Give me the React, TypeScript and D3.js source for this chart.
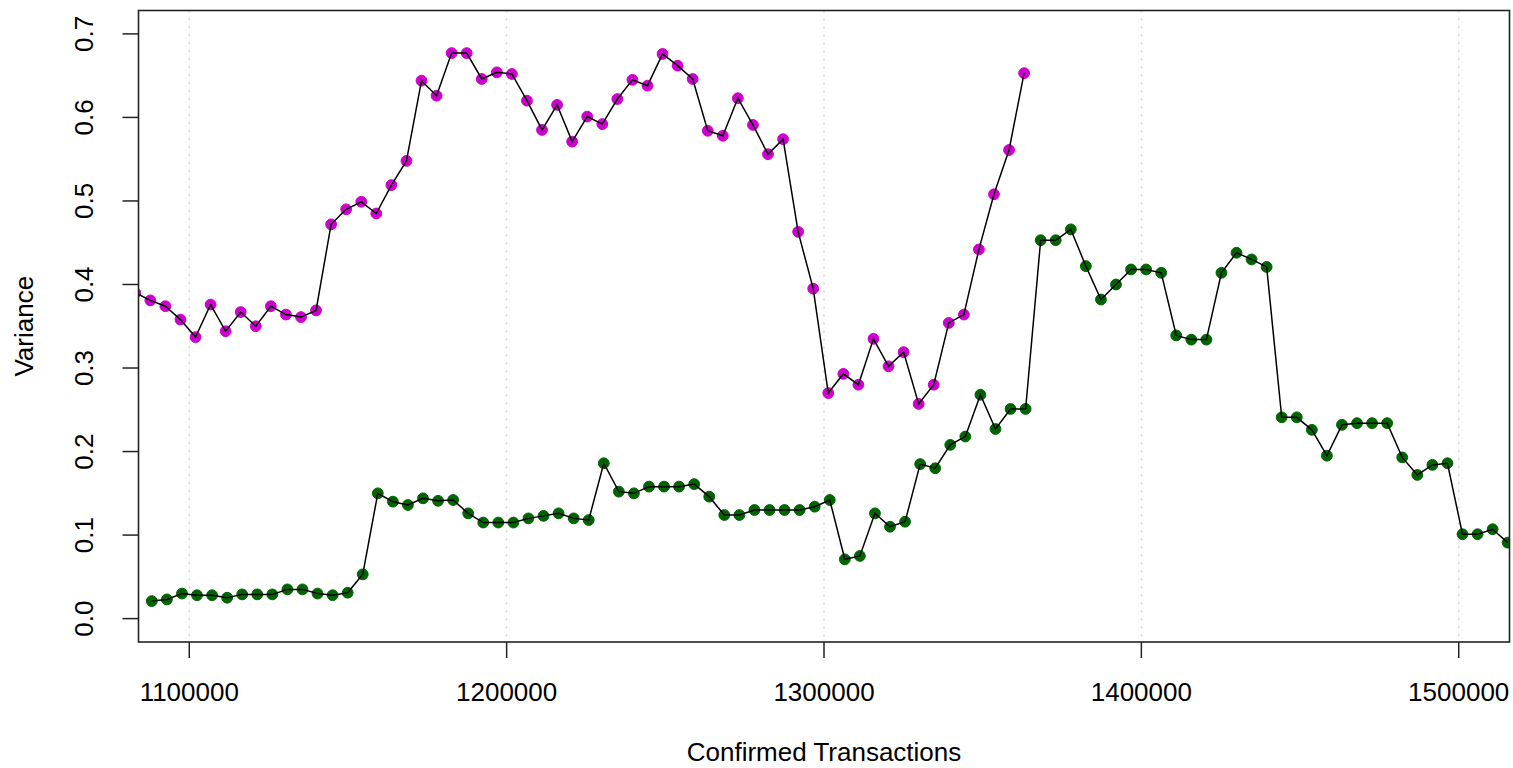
import React from "react";
import * as d3 from "d3";

// x values (Confirmed Transactions) and y values (Variance)
const magentaX = [
  1082983, 1087730, 1092477, 1097224, 1101971, 1106718, 1111465, 1116212, 1120959, 1125706,
  1130453, 1135200, 1139947, 1144694, 1149441, 1154188, 1158935, 1163682, 1168429, 1173176,
  1177923, 1182670, 1187417, 1192164, 1196911, 1201658, 1206405, 1211152, 1215899, 1220646,
  1225393, 1230140, 1234887, 1239634, 1244381, 1249128, 1253875, 1258622, 1263369, 1268116,
  1272863, 1277610, 1282357, 1287104, 1291851, 1296598, 1301345, 1306092, 1310839, 1315586,
  1320333, 1325080, 1329827, 1334574, 1339321, 1344068, 1348815, 1353562, 1358309, 1363056,
];
const magentaY = [
  0.390, 0.381, 0.374, 0.358, 0.337, 0.376, 0.344, 0.367, 0.350, 0.374,
  0.364, 0.361, 0.369, 0.472, 0.490, 0.499, 0.485, 0.519, 0.548, 0.644,
  0.626, 0.677, 0.677, 0.646, 0.654, 0.652, 0.620, 0.585, 0.615, 0.571,
  0.601, 0.592, 0.622, 0.645, 0.638, 0.676, 0.662, 0.646, 0.584, 0.578,
  0.623, 0.591, 0.556, 0.574, 0.463, 0.395, 0.270, 0.293, 0.280, 0.335,
  0.302, 0.319, 0.257, 0.280, 0.354, 0.364, 0.442, 0.508, 0.561, 0.653,
];
const greenX = [
  1088200, 1092947, 1097694, 1102441, 1107188, 1111935, 1116682, 1121429, 1126176, 1130923,
  1135670, 1140417, 1145164, 1149911, 1154658, 1159405, 1164152, 1168899, 1173646, 1178393,
  1183140, 1187887, 1192634, 1197381, 1202128, 1206875, 1211622, 1216369, 1221116, 1225863,
  1230610, 1235357, 1240104, 1244851, 1249598, 1254345, 1259092, 1263839, 1268586, 1273333,
  1278080, 1282827, 1287574, 1292321, 1297068, 1301815, 1306562, 1311309, 1316056, 1320803,
  1325550, 1330297, 1335044, 1339791, 1344538, 1349285, 1354032, 1358779, 1363526, 1368273,
  1373020, 1377767, 1382514, 1387261, 1392008, 1396755, 1401502, 1406249, 1410996, 1415743,
  1420490, 1425237, 1429984, 1434731, 1439478, 1444225, 1448972, 1453719, 1458466, 1463213,
  1467960, 1472707, 1477454, 1482201, 1486948, 1491695, 1496442, 1501189, 1505936, 1510683,
  1515430,
];
const greenY = [
  0.021, 0.023, 0.030, 0.028, 0.028, 0.025, 0.029, 0.029, 0.029, 0.035,
  0.035, 0.030, 0.028, 0.031, 0.053, 0.150, 0.140, 0.136, 0.144, 0.141,
  0.142, 0.126, 0.115, 0.115, 0.115, 0.120, 0.123, 0.126, 0.120, 0.118,
  0.186, 0.152, 0.150, 0.158, 0.158, 0.158, 0.161, 0.146, 0.124, 0.124,
  0.130, 0.130, 0.130, 0.130, 0.134, 0.142, 0.071, 0.075, 0.126, 0.110,
  0.116, 0.185, 0.180, 0.208, 0.218, 0.268, 0.227, 0.251, 0.251, 0.453,
  0.453, 0.466, 0.422, 0.382, 0.400, 0.418, 0.418, 0.414, 0.339, 0.334,
  0.334, 0.414, 0.438, 0.430, 0.421, 0.241, 0.241, 0.226, 0.195, 0.232,
  0.234, 0.234, 0.234, 0.193, 0.172, 0.184, 0.186, 0.101, 0.101, 0.107,
  0.091,
];
const xTicks = [1100000, 1200000, 1300000, 1400000, 1500000];
const yTicks = [0, 0.1, 0.2, 0.3, 0.4, 0.5, 0.6, 0.7];

const W = 1513;
const H = 768;
const L = 138.5, R = 1509.5, T = 10.5, B = 642;
const FONT = "'Liberation Sans', Arial, Helvetica, sans-serif";

export default function App() {
  const x = d3.scaleLinear().domain([1084000, 1516000]).range([L, R]);
  const y = d3.scaleLinear().domain([-0.028, 0.728]).range([B, T]);
  const mag = magentaX.map((v, i) => [v, magentaY[i]] as [number, number]);
  const grn = greenX.map((v, i) => [v, greenY[i]] as [number, number]);
  const line = d3
    .line<[number, number]>()
    .x((d) => x(d[0]))
    .y((d) => y(d[1]));
  const tickLen = 16;
  return (
    <svg
      width={W}
      height={H}
      style={{ position: "absolute", left: 0, top: 0, background: "#fff" }}
      fontFamily={FONT}
    >
      <defs>
        <clipPath id="plotclip">
          <rect x={L} y={T} width={R - L} height={B - T} />
        </clipPath>
      </defs>
      <rect x={0} y={0} width={W} height={H} fill="#fff" />
      {/* vertical dotted grid */}
      {xTicks.map((t) => (
        <line
          key={"g" + t}
          x1={x(t)}
          x2={x(t)}
          y1={T}
          y2={B}
          stroke="#d3d3d3"
          strokeWidth={1.5}
          strokeDasharray="2,6"
        />
      ))}
      <g clipPath="url(#plotclip)">
        {mag.map((d, i) => (
          <circle key={"m" + i} cx={x(d[0])} cy={y(d[1])} r={5.4} fill="#cd00cd" stroke="#cd00cd" strokeWidth={1} />
        ))}
        {grn.map((d, i) => (
          <circle key={"n" + i} cx={x(d[0])} cy={y(d[1])} r={5.4} fill="#006400" stroke="#006400" strokeWidth={1} />
        ))}
        <path d={line(mag) || ""} fill="none" stroke="#000" strokeWidth={1.5} />
        <path d={line(grn) || ""} fill="none" stroke="#000" strokeWidth={1.5} />
      </g>
      {/* box */}
      <rect x={L} y={T} width={R - L} height={B - T} fill="none" stroke="#222" strokeWidth={1.6} />
      {/* x axis ticks */}
      {xTicks.map((t) => (
        <g key={"x" + t}>
          <line x1={x(t)} x2={x(t)} y1={B} y2={B + tickLen} stroke="#222" strokeWidth={1.5} />
          <text x={x(t)} y={701} textAnchor="middle" fontSize={26} fill="#000">
            {String(t)}
          </text>
        </g>
      ))}
      {/* y axis ticks */}
      {yTicks.map((t) => (
        <g key={"y" + t}>
          <line x1={L - tickLen} x2={L} y1={y(t)} y2={y(t)} stroke="#222" strokeWidth={1.5} />
          <text
            transform={`translate(93,${y(t)}) rotate(-90)`}
            textAnchor="middle"
            fontSize={26}
            fill="#000"
          >
            {t.toFixed(1)}
          </text>
        </g>
      ))}
      <text x={(L + R) / 2} y={761} textAnchor="middle" fontSize={26} fill="#000">
        Confirmed Transactions
      </text>
      <text
        transform={`translate(33,${(T + B) / 2}) rotate(-90)`}
        textAnchor="middle"
        fontSize={26}
        fill="#000"
      >
        Variance
      </text>
    </svg>
  );
}
